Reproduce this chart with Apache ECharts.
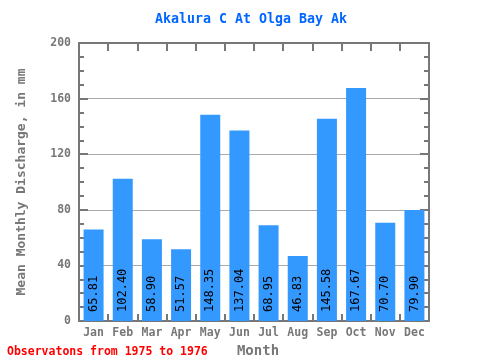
<!DOCTYPE html>
<html><head><meta charset="utf-8">
<script src="https://cdn.jsdelivr.net/npm/echarts@6/dist/echarts.min.js"></script>
<style>html,body{margin:0;padding:0;background:#fff}#c{width:480px;height:360px}</style>
</head><body><div id="c"></div>
<script>
var months = ["Jan","Feb","Mar","Apr","May","Jun","Jul","Aug","Sep","Oct","Nov","Dec"];
var discharge = [65.81,102.40,58.90,51.57,148.35,137.04,68.95,46.83,145.58,167.67,70.70,79.90];
var yTicks = [0,40,80,120,160,200];
var titleText = "Akalura C At Olga Bay Ak";
var footText = "Observatons from 1975 to 1976";
var F = "'DejaVu Sans Mono', 'Liberation Mono', monospace";
var AX = '#777777';
var chart = echarts.init(document.getElementById('c'));
chart.setOption({
  animation:false,
  backgroundColor:'#ffffff',
  title:[{text:titleText,left:150,top:8,textStyle:{fontFamily:F,fontSize:13.3,fontWeight:'bold',color:'#0066ff'}},
         {text:footText,left:2,top:341,textStyle:{fontFamily:F,fontSize:11.5,fontWeight:'bold',color:'#ff0000'}}],
  grid:{left:79,right:51,top:43,bottom:39,containLabel:false,outerBoundsMode:'none'},
  xAxis:[{type:'category',data:months,position:'bottom',
    name:'Month',nameLocation:'middle',nameGap:21,
    nameTextStyle:{fontFamily:F,fontSize:14,fontWeight:'bold',color:AX,padding:[0,0,0,8]},
    axisLine:{onZero:false,lineStyle:{color:AX,width:2}},
    axisTick:{show:true,inside:true,length:7,interval:0,alignWithLabel:false,lineStyle:{color:AX,width:2}},
    axisLabel:{fontFamily:F,fontSize:11.5,fontWeight:'bold',color:AX,margin:6,interval:0},
    splitLine:{show:false}},
   {type:'category',data:months,position:'top',
    axisLine:{onZero:false,lineStyle:{color:AX,width:2}},
    axisTick:{show:true,inside:true,length:8,interval:0,alignWithLabel:false,lineStyle:{color:AX,width:2}},
    axisLabel:{show:false},splitLine:{show:false}}],
  yAxis:[{type:'value',min:0,max:200,interval:40,position:'left',
    name:'Mean Monthly Discharge, in mm',nameLocation:'middle',nameGap:51,
    nameTextStyle:{fontFamily:F,fontSize:13,fontWeight:'bold',color:AX},
    axisLine:{show:true,onZero:false,lineStyle:{color:AX,width:2}},
    axisTick:{show:true,inside:true,length:9,lineStyle:{color:AX,width:2}},
    minorTick:{show:true,splitNumber:4,length:5,lineStyle:{color:AX,width:2}},
    axisLabel:{fontFamily:F,fontSize:11.5,fontWeight:'bold',color:AX,margin:8,
      formatter:function(v){return yTicks.indexOf(v)>=0?String(v):'';}},
    splitLine:{show:true,lineStyle:{color:'#aaaaaa',width:1}}},
   {type:'value',min:0,max:200,interval:40,position:'right',
    axisLine:{show:true,onZero:false,lineStyle:{color:AX,width:2}},
    axisTick:{show:true,inside:true,length:9,lineStyle:{color:AX,width:2}},
    minorTick:{show:true,splitNumber:4,length:5,lineStyle:{color:AX,width:2}},
    axisLabel:{show:false},splitLine:{show:false}}],
  series:[{type:'bar',data:discharge,xAxisIndex:0,yAxisIndex:0,barWidth:20,
    itemStyle:{color:'#3399ff'},
    label:{show:true,position:'insideBottom',rotate:90,align:'left',verticalAlign:'middle',distance:9,
      fontFamily:F,fontSize:12,color:'#000000',
      formatter:function(p){return p.value.toFixed(2);}}}]
});
</script></body></html>
